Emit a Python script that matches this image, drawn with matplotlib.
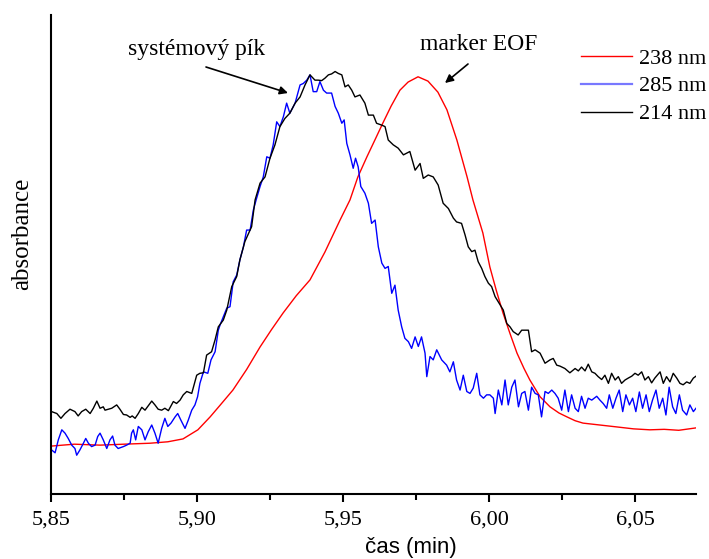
import matplotlib
matplotlib.use("Agg")
import matplotlib.pyplot as plt
from matplotlib.ticker import FuncFormatter, MultipleLocator

# ---- data (time in min, absorbance in arbitrary units) ----
t_214 = [5.8502, 5.8520, 5.8534, 5.8548, 5.8565, 5.8582, 5.8593, 5.8605, 5.8619, 5.8634,
         5.8645, 5.8657, 5.8668, 5.8679, 5.8685, 5.8696, 5.8708, 5.8725, 5.8736, 5.8748,
         5.8759, 5.8771, 5.8778, 5.8788, 5.8799, 5.8811, 5.8822, 5.8833, 5.8845, 5.8856,
         5.8867, 5.8879, 5.8890, 5.8902, 5.8919, 5.8930, 5.8942, 5.8953, 5.8965, 5.8982,
         5.8999, 5.9010, 5.9022, 5.9033, 5.9050, 5.9062, 5.9073, 5.9090, 5.9102, 5.9119,
         5.9136, 5.9147, 5.9164, 5.9187, 5.9199, 5.9216, 5.9233, 5.9250, 5.9267, 5.9284,
         5.9301, 5.9318, 5.9336, 5.9353, 5.9370, 5.9387, 5.9404, 5.9415, 5.9427, 5.9438,
         5.9450, 5.9461, 5.9473, 5.9484, 5.9496, 5.9507, 5.9518, 5.9530, 5.9541, 5.9558,
         5.9575, 5.9587, 5.9604, 5.9615, 5.9633, 5.9644, 5.9655, 5.9672, 5.9689, 5.9707,
         5.9729, 5.9747, 5.9764, 5.9775, 5.9792, 5.9809, 5.9826, 5.9843, 5.9861, 5.9878,
         5.9889, 5.9906, 5.9918, 5.9929, 5.9941, 5.9952, 5.9963, 5.9975, 5.9986, 5.9998,
         6.0009, 6.0021, 6.0038, 6.0049, 6.0061, 6.0072, 6.0083, 6.0100, 6.0112, 6.0123,
         6.0135, 6.0146, 6.0158, 6.0175, 6.0192, 6.0209, 6.0220, 6.0232, 6.0243, 6.0260,
         6.0277, 6.0295, 6.0306, 6.0317, 6.0329, 6.0340, 6.0352, 6.0363, 6.0374, 6.0386,
         6.0397, 6.0409, 6.0420, 6.0432, 6.0443, 6.0454, 6.0466, 6.0477, 6.0489, 6.0500,
         6.0511, 6.0523, 6.0534, 6.0546, 6.0557, 6.0568, 6.0586, 6.0597, 6.0608, 6.0620,
         6.0631, 6.0643, 6.0654, 6.0665, 6.0677, 6.0688, 6.0700, 6.0709]
a_214 = [17.2, 16.8, 15.8, 16.8, 17.7, 17.2, 16.3, 17.2, 17.7, 16.8,
         17.9, 19.4, 17.9, 18.2, 17.5, 17.7, 17.9, 18.6, 17.7, 16.6,
         16.5, 16.0, 16.3, 15.8, 16.8, 18.1, 17.5, 18.4, 19.4, 18.6,
         17.7, 17.5, 17.9, 17.4, 19.3, 18.9, 19.6, 20.7, 21.4, 21.0,
         24.8, 25.2, 25.3, 29.0, 29.7, 32.2, 34.9, 36.3, 38.4, 43.3,
         45.4, 48.9, 52.7, 55.8, 61.4, 64.9, 66.2, 70.1, 72.9, 76.7,
         78.4, 79.5, 81.6, 82.9, 85.4, 87.5, 86.4, 86.4, 86.3, 86.8,
         87.5, 87.7, 88.2, 87.8, 87.5, 85.0, 85.4, 84.3, 82.9, 83.3,
         81.6, 79.1, 79.1, 77.4, 77.0, 76.7, 73.9, 72.9, 72.2, 70.8,
         71.5, 67.6, 69.0, 65.9, 66.6, 66.2, 64.5, 60.7, 59.6, 57.6,
         56.8, 56.5, 54.1, 51.6, 50.6, 50.9, 48.5, 47.1, 45.4, 44.0,
         43.3, 41.2, 39.5, 38.4, 35.6, 34.9, 33.9, 33.2, 34.2, 34.2,
         34.2, 29.7, 30.1, 29.4, 27.3, 28.0, 28.3, 26.9, 26.7, 26.2,
         25.3, 26.2, 25.7, 26.5, 25.7, 27.1, 25.5, 25.2, 24.5, 23.9,
         24.8, 23.1, 25.2, 23.8, 24.5, 23.1, 23.8, 24.2, 24.6, 25.2,
         24.8, 25.5, 23.8, 24.5, 23.2, 24.2, 25.5, 23.1, 24.5, 23.4,
         25.2, 24.2, 23.1, 22.8, 23.4, 23.1, 24.2, 24.6]

t_285 = [5.8502, 5.8514, 5.8525, 5.8537, 5.8548, 5.8559, 5.8571, 5.8582, 5.8588, 5.8599,
         5.8611, 5.8619, 5.8628, 5.8639, 5.8651, 5.8660, 5.8668, 5.8679, 5.8691, 5.8702,
         5.8711, 5.8719, 5.8730, 5.8748, 5.8759, 5.8771, 5.8776, 5.8782, 5.8790, 5.8799,
         5.8811, 5.8822, 5.8833, 5.8845, 5.8856, 5.8867, 5.8879, 5.8890, 5.8900, 5.8911,
         5.8925, 5.8934, 5.8945, 5.8959, 5.8970, 5.8982, 5.8993, 5.9002, 5.9010, 5.9022,
         5.9037, 5.9048, 5.9062, 5.9073, 5.9079, 5.9090, 5.9102, 5.9113, 5.9124, 5.9136,
         5.9147, 5.9159, 5.9170, 5.9182, 5.9193, 5.9204, 5.9216, 5.9227, 5.9239, 5.9250,
         5.9261, 5.9273, 5.9284, 5.9296, 5.9307, 5.9318, 5.9336, 5.9353, 5.9364, 5.9376,
         5.9387, 5.9398, 5.9410, 5.9421, 5.9433, 5.9444, 5.9461, 5.9473, 5.9484, 5.9496,
         5.9504, 5.9513, 5.9524, 5.9535, 5.9543, 5.9552, 5.9561, 5.9575, 5.9587, 5.9598,
         5.9610, 5.9621, 5.9633, 5.9644, 5.9655, 5.9667, 5.9678, 5.9689, 5.9701, 5.9712,
         5.9724, 5.9735, 5.9747, 5.9758, 5.9769, 5.9781, 5.9787, 5.9798, 5.9809, 5.9821,
         5.9838, 5.9855, 5.9866, 5.9878, 5.9889, 5.9901, 5.9912, 5.9924, 5.9935, 5.9946,
         5.9958, 5.9969, 5.9981, 5.9992, 6.0003, 6.0015, 6.0021, 6.0032, 6.0044, 6.0055,
         6.0066, 6.0078, 6.0089, 6.0101, 6.0112, 6.0123, 6.0135, 6.0146, 6.0158, 6.0169,
         6.0180, 6.0192, 6.0203, 6.0215, 6.0226, 6.0237, 6.0249, 6.0260, 6.0272, 6.0283,
         6.0295, 6.0306, 6.0317, 6.0329, 6.0340, 6.0352, 6.0369, 6.0380, 6.0391, 6.0403,
         6.0412, 6.0424, 6.0435, 6.0446, 6.0458, 6.0469, 6.0481, 6.0492, 6.0503, 6.0515,
         6.0526, 6.0538, 6.0549, 6.0560, 6.0572, 6.0583, 6.0595, 6.0606, 6.0617, 6.0629,
         6.0640, 6.0652, 6.0663, 6.0677, 6.0688, 6.0700, 6.0709]
a_285 = [9.2, 8.6, 11.3, 13.4, 12.7, 11.6, 10.2, 9.5, 8.1, 9.2,
         10.6, 11.6, 10.6, 9.9, 10.2, 12.0, 12.7, 11.3, 9.5, 11.3,
         12.1, 10.2, 9.5, 9.9, 10.2, 10.6, 12.7, 13.4, 11.3, 14.1,
         13.4, 11.3, 13.0, 14.4, 12.7, 10.6, 13.7, 15.8, 14.1, 14.8,
         16.1, 16.8, 15.4, 13.7, 15.4, 17.5, 18.6, 20.3, 23.1, 25.5,
         25.2, 28.0, 29.7, 34.2, 35.3, 37.0, 38.8, 39.1, 44.3, 45.7,
         48.9, 51.6, 55.1, 55.1, 59.3, 61.7, 64.2, 66.2, 70.4, 70.1,
         72.9, 77.7, 76.7, 78.8, 81.6, 79.5, 81.6, 85.4, 85.7, 86.4,
         87.5, 84.0, 84.0, 86.1, 84.3, 83.7, 83.7, 80.9, 79.5, 77.4,
         78.1, 73.2, 70.8, 68.0, 70.1, 68.3, 64.2, 62.8, 60.7, 56.5,
         57.2, 51.6, 48.2, 47.1, 47.5, 41.9, 43.6, 38.4, 34.9, 32.5,
         31.8, 30.4, 32.8, 30.8, 32.8, 29.4, 24.5, 28.7, 28.0, 30.1,
         28.0, 26.9, 25.5, 27.6, 23.8, 21.7, 24.8, 21.4, 21.0, 22.1,
         25.2, 20.7, 20.0, 20.7, 20.7, 20.0, 16.8, 21.7, 18.6, 23.8,
         18.6, 22.3, 23.8, 18.2, 21.0, 21.4, 17.5, 22.3, 21.0, 20.7,
         16.1, 21.4, 21.0, 21.7, 21.0, 20.0, 17.5, 21.7, 17.2, 20.7,
         17.9, 17.2, 20.4, 17.9, 20.0, 19.6, 20.4, 19.6, 18.9, 17.9,
         20.7, 17.9, 20.0, 21.7, 17.2, 20.7, 18.6, 20.0, 17.2, 21.3,
         17.9, 20.7, 17.2, 19.6, 21.7, 17.9, 20.0, 16.5, 22.3, 18.2,
         16.8, 20.7, 17.5, 16.5, 18.6, 17.2, 17.9]

t_238 = [5.8500, 5.8580, 5.8668, 5.8750, 5.8839, 5.8900, 5.8952, 5.9003, 5.9045, 5.9080,
         5.9123, 5.9170, 5.9216, 5.9255, 5.9295, 5.9340, 5.9387, 5.9438, 5.9490, 5.9524,
         5.9551, 5.9582, 5.9610, 5.9637, 5.9665, 5.9695, 5.9723, 5.9757, 5.9791, 5.9825,
         5.9856, 5.9890, 5.9925, 5.9945, 5.9979, 6.0003, 6.0025, 6.0048, 6.0072, 6.0096,
         6.0120, 6.0140, 6.0175, 6.0209, 6.0240, 6.0267, 6.0295, 6.0322, 6.0380, 6.0438,
         6.0495, 6.0551, 6.0600, 6.0650, 6.0709]
a_238 = [10.0, 10.4, 10.2, 10.4, 10.6, 10.9, 11.5, 13.4, 16.1, 18.6,
         21.7, 26.0, 30.7, 34.3, 37.8, 41.4, 44.7, 50.5, 57.2, 61.4,
         66.2, 70.4, 74.0, 77.5, 81.0, 84.3, 86.0, 87.1, 86.2, 83.9,
         80.2, 73.9, 66.2, 61.4, 54.5, 47.4, 42.5, 37.8, 33.5, 29.4,
         26.2, 23.8, 20.3, 18.2, 16.9, 16.1, 15.3, 14.8, 14.4, 14.0,
         13.6, 13.4, 13.5, 13.3, 13.8]

x_ticks = [5.85, 5.90, 5.95, 6.00, 6.05]

# ---- figure ----
W, H = 709, 559
fig = plt.figure(figsize=(W / 100, H / 100), dpi=100)
ax = fig.add_axes([51 / W, (H - 494) / H, (696 - 51) / W, (494 - 15) / H])

serif = "Liberation Serif"
sans = "Liberation Sans"

l1, = ax.plot(t_238, a_238, color="#ff0000", lw=1.0, label="238 nm")
l2, = ax.plot(t_285, a_285, color="#0000ff", lw=1.0, label="285 nm")
l3, = ax.plot(t_214, a_214, color="#000000", lw=1.0, label="214 nm")

ax.set_xlim(5.85, 6.0709)
ax.set_ylim(0, 100)
ax.set_xticks(x_ticks)
ax.xaxis.set_minor_locator(MultipleLocator(0.025))
ax.xaxis.set_major_formatter(FuncFormatter(lambda v, p: f"{v:.2f}".replace(".", ",")))
ax.set_yticks([])
for s in ("top", "right"):
    ax.spines[s].set_visible(False)
for s in ("left", "bottom"):
    ax.spines[s].set_linewidth(1.5)
ax.tick_params(axis="x", which="major", direction="out", length=6, width=1.5,
               labelsize=16, pad=6)
ax.tick_params(axis="x", which="minor", direction="out", length=4, width=1.5)
for lab in ax.get_xticklabels():
    lab.set_fontfamily(serif)

# axis labels
fig.text(411 / W, (H - 547) / H, "čas (min)", family=sans, fontsize=16,
         ha="center", va="center")
fig.text(22 / W, (H - 234) / H, "absorbance", family=serif, fontsize=18,
         ha="center", va="center", rotation=90)

# annotations
ax.annotate("systémový pík", xy=(288, H - 93), xycoords="figure pixels",
            xytext=(197, H - 49), textcoords="figure pixels",
            fontsize=17, family=serif, ha="center", va="center")
ax.annotate("", xy=(288, H - 93), xycoords="figure pixels",
            xytext=(206, H - 67), textcoords="figure pixels",
            arrowprops=dict(arrowstyle="-|>", color="black", lw=1.2,
                            mutation_scale=12, shrinkA=0, shrinkB=0))
ax.annotate("marker EOF", xy=(445, H - 83), xycoords="figure pixels",
            xytext=(479, H - 44), textcoords="figure pixels",
            fontsize=17, family=serif, ha="center", va="center")
ax.annotate("", xy=(445, H - 83), xycoords="figure pixels",
            xytext=(468, H - 64), textcoords="figure pixels",
            arrowprops=dict(arrowstyle="-|>", color="black", lw=1.2,
                            mutation_scale=12, shrinkA=0, shrinkB=0))

leg = ax.legend(handles=[l1, l2, l3], loc="upper left",
                bbox_to_anchor=(581 / W, (H - 48) / H),
                bbox_transform=fig.transFigure, frameon=False,
                prop={"family": serif, "size": 16}, handlelength=2.3,
                handletextpad=0.3, labelspacing=0.33, borderpad=0,
                borderaxespad=0)
leg.get_lines()[1].set_color("#7878ff")
leg.get_lines()[1].set_linewidth(1.6)

fig.savefig("out.png", dpi=100)
